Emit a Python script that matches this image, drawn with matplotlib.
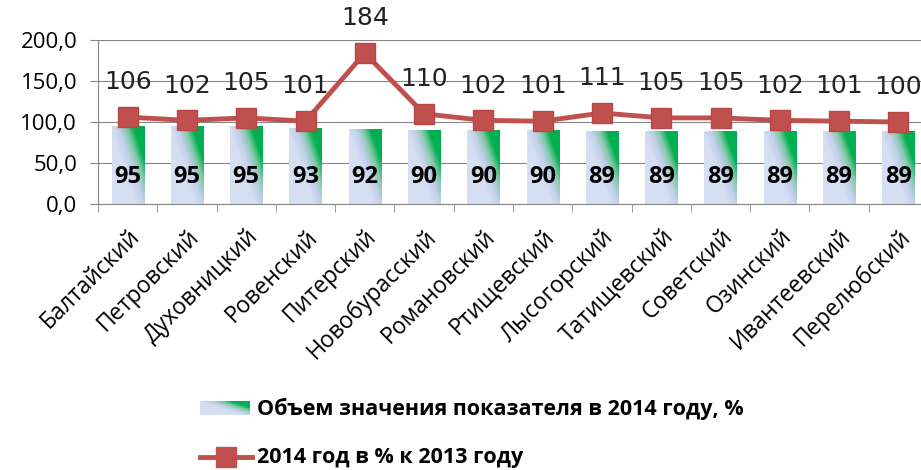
import numpy as np
import matplotlib
matplotlib.use("Agg")
import matplotlib.pyplot as plt
from matplotlib.colors import LinearSegmentedColormap
from matplotlib.lines import Line2D

districts = ["Балтайский", "Петровский", "Духовницкий", "Ровенский", "Питерский",
             "Новобурасский", "Романовский", "Ртищевский", "Лысогорский",
             "Татищевский", "Советский", "Озинский", "Ивантеевский", "Перелюбский"]
volume_2014 = [95, 95, 95, 93, 92, 90, 90, 90, 89, 89, 89, 89, 89, 89]
pct_vs_2013 = [106, 102, 105, 101, 184, 110, 102, 101, 111, 105, 105, 102, 101, 100]
yticks = [0, 50, 100, 150, 200]

bar_label = "Объем значения показателя в 2014 году, %"
line_label = "2014 год в % к 2013 году"

plt.rcParams["font.family"] = ["Open Sans", "DejaVu Sans"]
RED = "#C0504D"
grad_cmap = LinearSegmentedColormap.from_list(
    "bargrad", ["#D6DFF2", "#C2D0EB", "#86C9AA", "#00B050"])


def gradient(w=60, h=120):
    """Diagonal gradient: light blue at bottom-left, green at top-right."""
    u = np.linspace(0, 1, w)[None, :]
    v = np.linspace(0, 1, h)[:, None]
    return np.clip((u + 0.8 * v - 0.75) / 0.7, 0, 1)


fig = plt.figure(figsize=(9.21, 4.70), dpi=100)
ax = fig.add_axes([98 / 921, 1 - 204 / 470, 830 / 921, 164 / 470])

x = np.arange(len(districts))
bars = ax.bar(x, volume_2014, width=0.54, facecolor="none", edgecolor="none", zorder=2)
for b in bars:
    x0, y0 = b.get_x(), b.get_y()
    im = ax.imshow(gradient(), cmap=grad_cmap, vmin=0, vmax=1, origin="lower",
                   extent=[x0, x0 + b.get_width(), y0, y0 + b.get_height()],
                   aspect="auto", zorder=2)
    im.set_clip_path(b)

for xi, v in zip(x, volume_2014):
    ax.text(xi, 33, str(v), ha="center", va="center", fontsize=17,
            fontweight="bold", color="black", zorder=4)

ax.plot(x, pct_vs_2013, color=RED, lw=3.5, marker="s", markersize=15,
        markerfacecolor=RED, markeredgecolor="#B9474A", zorder=3)
for xi, v in zip(x, pct_vs_2013):
    ax.annotate(str(v), (xi, v), xytext=(0, 25), textcoords="offset points",
                ha="center", va="center", fontsize=18,
                family=["Liberation Sans Narrow", "DejaVu Sans"], color="#222222")

ax.set_xlim(-0.5, len(districts) - 0.5)
ax.set_ylim(0, 200)
ax.set_yticks(yticks)
ax.set_yticklabels([f"{t:.1f}".replace(".", ",") for t in yticks], fontsize=16)
ax.set_xticks(x)
ax.set_xticklabels(districts, rotation=45, ha="right", rotation_mode="anchor",
                   fontsize=16.5)
ax.set_xticks(np.arange(-0.5, len(districts), 1), minor=True)
ax.tick_params(axis="x", which="major", length=0, pad=15)
ax.tick_params(axis="x", which="minor", length=6, color="#868686")
ax.tick_params(axis="y", length=6, color="#868686", pad=9)
ax.grid(axis="y", color="#868686", lw=0.8)
ax.set_axisbelow(True)
for s in ["top", "right"]:
    ax.spines[s].set_visible(False)
for s in ["left", "bottom"]:
    ax.spines[s].set_color("#868686")

# legend drawn by hand in figure pixels
lax = fig.add_axes([0, 0, 1, 1], facecolor="none")
lax.set_xlim(0, 921)
lax.set_ylim(470, 0)
lax.axis("off")
lax.imshow(gradient(60, 10), cmap=grad_cmap, vmin=0, vmax=1, origin="lower",
           extent=[200, 250, 415, 401], aspect="auto")
lax.add_line(Line2D([200, 252], [457, 457], color=RED, lw=3.5))
lax.add_line(Line2D([226], [457], marker="s", markersize=15, color=RED))
lax.text(257, 409, bar_label, ha="left", va="center", fontsize=15.5, fontweight="bold")
lax.text(257, 458, line_label, ha="left", va="center", fontsize=15.5, fontweight="bold")

fig.savefig("out.png", dpi=100)
